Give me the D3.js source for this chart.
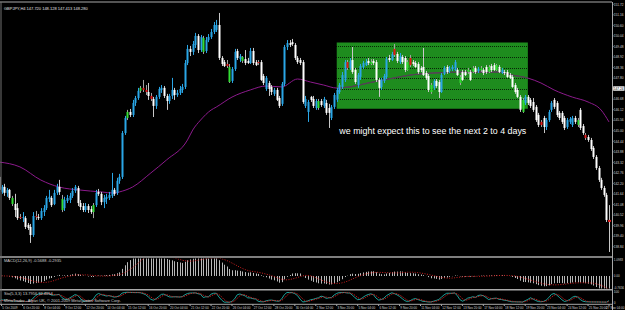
<!DOCTYPE html>
<html><head><meta charset="utf-8">
<script src="https://cdn.jsdelivr.net/npm/d3@7"></script>
<style>html,body{margin:0;padding:0;background:#000;overflow:hidden}svg{display:block}</style>
</head><body>
<svg id="c" width="625" height="310"></svg>
<script>
// ---------- DATA (GBPJPY H4) ----------
const opens=[142.55,141.75,142.02,141.70,141.86,141.43,141.11,140.89,140.42,140.36,
140.36,140.00,139.89,139.46,140.47,140.42,140.36,140.68,140.89,141.38,
141.43,141.11,141.70,142.02,141.38,140.89,141.27,141.32,141.54,141.81,
141.96,141.16,141.00,140.79,141.00,140.84,140.68,141.05,141.75,141.65,
141.21,141.38,141.43,141.54,141.86,141.70,142.34,142.55,144.88,145.68,
146.00,145.84,146.48,146.74,147.12,147.28,147.17,147.06,146.85,146.69,
146.32,146.80,147.17,147.28,146.85,146.58,146.85,147.17,146.90,147.01,
147.17,147.33,148.60,149.35,149.19,149.56,150.04,149.29,149.93,149.24,
149.82,149.98,150.25,150.36,150.62,148.87,148.65,148.55,148.39,147.65,
148.28,149.24,148.81,148.92,148.81,148.71,148.60,149.24,148.65,148.65,
148.65,147.91,147.22,147.54,147.33,146.96,147.17,146.74,146.43,147.49,
149.45,149.66,149.71,149.56,148.87,148.76,148.65,146.32,146.00,146.80,
146.69,146.21,146.58,146.58,146.32,146.48,146.21,145.68,146.27,146.64,
147.06,147.33,147.70,148.65,148.34,148.76,148.23,147.43,147.86,148.39,
148.49,148.71,148.65,148.71,148.65,147.70,147.33,147.65,147.86,148.87,
148.76,149.35,149.08,148.65,148.92,148.87,148.65,148.87,148.65,148.60,
148.55,148.34,148.39,148.07,147.91,147.43,147.28,147.65,147.59,147.06,
148.02,148.39,148.18,148.28,148.23,148.23,147.86,148.12,148.12,148.23,
148.12,148.34,148.34,148.18,148.34,148.23,148.39,148.39,148.44,148.49,
148.49,148.39,148.07,148.12,148.12,147.96,147.86,147.43,147.17,146.80,
146.64,146.48,146.80,146.64,146.53,146.27,145.84,145.47,145.68,145.20,
145.57,146.11,146.64,146.48,145.95,145.95,145.68,145.20,145.47,145.31,
145.68,145.57,146.11,145.25,144.78,144.67,144.51,144.09,143.61,143.02,
142.39,141.96,141.59,140.26];
const highs=[142.65,142.12,142.18,141.96,141.91,141.54,141.65,141.16,140.58,140.68,
140.47,140.10,140.05,140.68,140.74,140.58,140.89,141.05,141.54,141.86,
141.54,141.86,142.18,142.39,141.59,141.49,141.59,141.70,141.96,142.12,
142.07,141.32,141.16,141.16,141.11,141.00,141.16,141.86,141.91,141.75,
141.59,141.65,141.75,142.76,141.96,142.50,142.71,144.99,145.79,146.11,
146.16,146.64,146.85,147.28,147.38,147.70,147.43,147.54,147.01,146.80,
146.90,147.33,147.43,147.38,146.96,146.96,147.81,147.28,147.17,147.38,
147.49,148.76,149.56,149.51,149.77,150.20,150.14,150.09,150.04,149.98,
150.14,150.41,150.78,150.89,151.26,148.97,148.76,148.76,148.55,148.39,
149.35,149.35,149.08,148.97,149.29,148.87,149.40,149.40,148.76,148.76,
148.76,148.02,147.91,147.65,147.43,147.28,147.28,146.85,147.59,149.56,
149.82,149.82,149.88,149.66,148.97,148.87,148.76,146.85,146.64,146.85,
146.85,146.69,146.69,146.69,146.80,146.64,146.43,146.37,147.01,147.28,
147.54,148.12,148.76,148.76,148.87,149.45,148.34,148.07,148.55,148.71,
148.81,148.87,148.81,148.81,148.76,147.81,147.81,148.02,148.92,149.03,
149.19,149.61,149.19,149.13,149.03,148.97,148.76,149.03,148.76,148.71,
148.65,148.44,149.40,148.18,148.02,147.54,147.75,147.75,147.70,148.07,
148.44,148.49,148.44,148.49,148.76,148.34,147.96,148.23,148.23,148.34,
148.23,148.44,148.44,148.39,148.44,148.34,148.49,148.49,148.55,148.60,
148.55,148.49,148.34,148.23,148.23,148.07,147.96,147.54,147.28,146.90,
146.74,146.90,146.90,146.74,146.74,146.37,145.95,145.57,145.79,145.68,
146.11,146.58,146.74,146.58,146.05,146.05,145.79,145.68,145.73,145.79,
145.79,145.68,146.21,145.36,144.88,144.78,144.62,144.19,143.71,143.13,
142.50,142.07,141.70,141.05];
const lows=[141.75,141.65,141.54,141.49,141.32,141.00,140.42,140.26,140.31,140.15,
139.78,139.73,139.04,139.36,140.26,140.26,140.26,140.47,140.79,141.21,
140.95,141.05,141.59,141.59,140.68,140.74,141.16,141.16,141.43,141.70,
141.00,140.79,140.68,140.68,140.63,140.58,140.36,140.95,141.54,141.05,
140.89,141.11,141.32,141.43,141.54,141.59,142.18,142.44,144.78,145.57,
145.73,145.73,146.32,146.64,147.01,147.06,146.90,146.64,146.58,145.73,
146.16,146.69,147.01,146.74,146.11,146.43,146.69,146.64,146.80,146.90,
147.01,147.22,148.49,148.97,149.03,149.40,149.13,149.19,149.08,149.13,
149.71,149.88,150.14,150.25,148.76,148.44,148.39,148.34,147.54,147.54,
148.18,148.76,148.65,148.60,148.49,148.55,148.55,148.49,148.44,148.49,
147.65,147.43,147.12,146.85,146.90,146.85,146.58,146.21,146.32,147.38,
149.29,149.45,149.51,148.76,148.55,148.49,146.43,146.21,145.47,146.53,
146.21,146.11,146.11,146.27,146.21,145.84,145.15,145.57,146.16,146.53,
146.96,147.22,147.59,148.23,148.23,148.02,147.49,147.28,147.70,148.28,
148.44,148.49,148.49,148.49,147.59,146.80,147.17,147.54,147.75,148.65,
148.71,148.92,148.60,148.55,148.55,148.12,148.18,148.39,148.44,148.34,
148.02,148.12,147.91,147.70,147.06,146.96,147.17,147.28,146.74,147.01,
147.96,148.02,148.07,148.18,148.18,147.91,147.43,147.65,147.91,148.02,
147.65,148.07,148.02,148.07,148.12,147.96,148.02,148.07,148.12,148.18,
148.18,148.07,148.02,147.96,147.81,147.75,147.28,146.96,146.74,146.00,
145.95,146.37,146.37,146.21,146.00,145.47,145.20,145.20,144.88,145.04,
145.47,146.00,146.16,145.73,145.57,145.36,145.04,145.10,145.36,145.20,
145.36,145.20,145.04,144.78,144.51,144.41,143.93,143.50,142.92,142.28,
141.86,141.49,140.15,138.56];
const closes=[141.86,142.02,141.70,141.86,141.43,141.11,140.79,140.36,140.36,140.42,
139.89,139.84,139.46,140.47,140.42,140.36,140.74,140.89,141.43,141.49,
141.05,141.70,142.02,141.75,140.79,141.32,141.43,141.54,141.81,142.02,
141.16,140.95,140.79,141.00,140.79,140.68,141.05,141.70,141.65,141.21,
141.43,141.49,141.59,141.86,141.65,142.34,142.55,144.88,145.68,146.00,
145.84,146.48,146.74,147.12,147.28,147.17,147.06,146.85,146.69,146.32,
146.80,147.22,147.28,146.85,146.58,146.85,147.17,146.90,147.01,147.22,
147.33,148.60,149.35,149.19,149.61,150.04,149.29,149.98,149.19,149.82,
149.98,150.25,150.62,150.62,148.87,148.55,148.44,148.44,147.59,148.28,
149.19,148.87,148.97,148.71,148.60,148.60,149.24,148.60,148.49,148.60,
147.70,147.54,147.81,147.22,147.06,147.17,146.64,146.32,147.49,149.45,
149.66,149.56,149.61,148.87,148.65,148.60,146.53,146.69,146.53,146.64,
146.32,146.58,146.21,146.37,146.69,145.95,145.95,146.27,146.90,147.17,
147.43,147.96,148.65,148.34,148.71,148.12,147.59,147.96,148.44,148.60,
148.65,148.60,148.55,148.60,147.70,147.28,147.70,147.91,148.81,148.76,
149.08,149.03,148.71,148.97,148.65,148.23,148.23,148.49,148.55,148.39,
148.12,148.23,147.96,147.81,147.17,147.06,147.65,147.38,147.06,147.96,
148.34,148.12,148.34,148.39,148.65,147.96,147.54,147.70,147.96,148.12,
147.70,148.12,148.12,148.28,148.23,148.07,148.12,148.12,148.23,148.23,
148.23,148.12,148.23,148.07,147.86,147.81,147.33,147.06,146.80,146.11,
146.00,146.80,146.48,146.32,146.11,145.57,145.31,145.31,145.20,145.57,
146.00,146.48,146.27,145.84,145.68,145.47,145.15,145.57,145.63,145.68,
145.47,145.31,145.15,144.88,144.62,144.51,144.03,143.61,143.02,142.39,
141.96,141.59,140.26,140.21];
// candle colour class per bar: w=bearish white, b=bullish blue, g=green signal, r=red signal
const barColors=("wbwbwgwwrb"+"wwwbrwbbbb"+"wbbwgbbbbb"+"wwwbwwgbww"+"bbbbwbbbbg"+
"wbbbgrrwrw"+"bbbwwbbwbb"+"bbbwbbwbgb"+"bbbbwwwrgb"+"bwbgwwbwwr"+
"wwbwwbwwbb"+"bwwwwwwbbw"+"wbgwbwwbbb"+"bbbrbwwbbb"+"bwgwwwbbbw"+
"brwbwwgrww"+"wwwwwgbwwb"+"bwbbbwgwwg"+"wgwbgwwgww"+"gwbwwwwwww"+
"gbwwwwwrwb"+"bbwwwwwbbb"+"wgwwrwwwww"+"wwww").split("");
// moving average readings (bar index, price)
const maBars=[0,8,16,23,31,39,44,46,51,58,64,72,74,77,81,83,89,96,102,108,114,119,124,129,134,141,147,153,157,166,179,191,196,202,207,212,219,225,230,233];
const maValues=[143.34,143.08,142.38,142.01,141.85,141.75,141.69,141.75,142.01,142.76,143.45,144.51,145.04,145.57,146.10,146.26,146.79,147.17,147.38,147.33,147.75,147.59,147.43,147.27,147.33,147.54,147.70,147.86,147.96,148.07,148.12,148.12,147.96,147.80,147.54,147.17,146.79,146.53,146.10,145.47];
// price axis labels
const priceTicks=[151.72,151.16,150.60,150.04,149.48,148.92,148.36,147.80,147.24,146.68,146.12,145.56,145.00,144.44,143.88,143.32,142.76,142.20,141.64,141.08,140.52,139.96,139.40,138.84];
const highlightTick=147.24;
// time axis labels
const timeLabelBars=[0,9,17,25,33,41,49,57,65,73,81,89,97,105,113,121,129,137,145,153,161,169,177,185,193,201,209,217,225,233];
const timeLabels=["5 Oct 2009","6 Oct 20:00","8 Oct 04:00","9 Oct 12:00","12 Oct 20:00","14 Oct 04:00","15 Oct 12:00","16 Oct 20:00","20 Oct 04:00","21 Oct 12:00","22 Oct 20:00","26 Oct 04:00","27 Oct 12:00","28 Oct 20:00","30 Oct 04:00","2 Nov 12:00","3 Nov 20:00","5 Nov 04:00","6 Nov 12:00","9 Nov 20:00","11 Nov 04:00","12 Nov 12:00","13 Nov 20:00","17 Nov 04:00","18 Nov 12:00","19 Nov 20:00","23 Nov 04:00","24 Nov 12:00","25 Nov 20:00","27 Nov 04:00"];
// rectangle object (bars / prices) and note
const boxBars=[129,202];
const boxPrices=[149.69,146.17];
const noteBar=130, notePrice=144.85;
const noteText="we might expect this to see the next 2 to 4 days";
// indicator panel labels
const macdTicks=[1.0983,0,-0.7656];
const stochTicks=[100,0];
const titleText="GBPJPY,H4  147.720 148.128 147.413 148.280";
const macdTitle="MACD(12,26,9) -0.5688 -0.2935";
const stochTitle="Sto(5,3,3) 13.7956 32.4054";
const copyright="MetaTrader - Alpari UK, \u00a9 2001-2009 MetaQuotes Software Corp.";

// ---------- DRAW ----------
const W=625,H=310, AX=612;
const svg=d3.select("#c");
svg.append("rect").attr("width",W).attr("height",H).attr("fill","#000");
const n=closes.length;
const x=d3.scaleLinear().domain([0,n-1]).range([-1,609]);
const y=d3.scaleLinear().domain([priceTicks[priceTicks.length-1],priceTicks[0]]).range([246.7,4.3]);
const font="'Liberation Sans',Arial,sans-serif";
const axCol="#d4d4d4";

const defs=svg.append("defs");
defs.append("clipPath").attr("id","main").append("rect").attr("x",0).attr("y",3).attr("width",AX).attr("height",253);
defs.append("clipPath").attr("id","box").append("rect")
  .attr("x",x(boxBars[0])).attr("y",y(boxPrices[0]))
  .attr("width",x(boxBars[1])-x(boxBars[0])).attr("height",y(boxPrices[1])-y(boxPrices[0]));
defs.append("clipPath").attr("id","macd").append("rect").attr("x",0).attr("y",258.5).attr("width",AX).attr("height",30);
defs.append("clipPath").attr("id","sto").append("rect").attr("x",0).attr("y",290.5).attr("width",AX).attr("height",13);

const main=svg.append("g").attr("clip-path","url(#main)");
// rectangle object
main.append("rect").attr("x",x(boxBars[0])).attr("y",y(boxPrices[0]))
  .attr("width",x(boxBars[1])-x(boxBars[0])).attr("height",y(boxPrices[1])-y(boxPrices[0]))
  .attr("fill","#1e8c1e");
// grid (black dotted; only visible over the rectangle)
main.selectAll("line.grid").data(priceTicks).join("line").attr("class","grid")
  .attr("x1",0).attr("x2",AX).attr("y1",d=>Math.round(y(d))+0.5).attr("y2",d=>Math.round(y(d))+0.5)
  .attr("stroke","#000").attr("stroke-opacity",0.75).attr("stroke-width",1).attr("stroke-dasharray","1,1");
// moving average
const maLine=d3.line().x((d,i)=>x(maBars[i])).y(d=>y(d)).curve(d3.curveMonotoneX);
main.append("path").attr("d",maLine(maValues)).attr("fill","none").attr("stroke","#8c1a8c").attr("stroke-width",1);
main.append("g").attr("clip-path","url(#box)").append("path").attr("d",maLine(maValues))
  .attr("fill","none").attr("stroke","#4a4a4a").attr("stroke-width",1.2);
// candles
const bodyCol={w:"#ffffff",b:"#2aa6e6",g:"#33dd33",r:"#e01818"};
const wickCol={w:"#c8c8c8",b:"#2aa6e6",g:"#a0a0a0",r:"#a0a0a0"};
const idx=d3.range(n);
main.selectAll("line.wick").data(idx).join("line").attr("class","wick")
  .attr("x1",i=>Math.round(x(i))+0.5).attr("x2",i=>Math.round(x(i))+0.5)
  .attr("y1",i=>y(highs[i])).attr("y2",i=>y(lows[i]))
  .attr("stroke",i=>wickCol[barColors[i]]).attr("stroke-width",1);
main.selectAll("rect.body").data(idx).join("rect").attr("class","body")
  .attr("x",i=>Math.round(x(i))-0.5).attr("width",2)
  .attr("y",i=>y(Math.max(opens[i],closes[i])))
  .attr("height",i=>Math.max(1,Math.abs(y(opens[i])-y(closes[i]))))
  .attr("fill",i=>bodyCol[barColors[i]]);
// last close marker
main.append("rect").attr("x",x(n-1)-1).attr("y",y(closes[n-1])-1).attr("width",3).attr("height",2).attr("fill","#e01818");
// note
svg.append("text").attr("x",x(noteBar)).attr("y",y(notePrice)).text(noteText)
  .attr("fill","#fff").attr("font-family","'Liberation Sans',Arial,sans-serif").attr("font-size",8.9);
// small text helper (tiny MT4-style labels)
function small(g,xx,yy,t,col,fs,len){
  const el=g.append("text").attr("x",xx).attr("y",yy).text(t).attr("fill",col||axCol)
    .attr("font-family",font).attr("font-size",fs);
  if(len){el.attr("textLength",len).attr("lengthAdjust","spacingAndGlyphs");}
  return el;
}
small(svg,4,10,titleText,"#e0e0e0",4,null);

// ---------- MACD ----------
function ema(arr,p){const a=2/(p+1);let e=arr[0];return arr.map((v,i)=>(e=i===0?v:e+a*(v-e)));}
const e12=ema(closes,12), e26=ema(closes,26);
const macd=closes.map((c,i)=>e12[i]-e26[i]);
const sig=macd.map((v,i)=>d3.mean(macd.slice(Math.max(0,i-8),i+1)));
const yM=d3.scaleLinear().domain([macdTicks[2],macdTicks[0]]).range([287.5,259.5]);
const mg=svg.append("g").attr("clip-path","url(#macd)");
mg.selectAll("line.h").data(idx).join("line").attr("class","h")
  .attr("x1",i=>Math.round(x(i))+0.5).attr("x2",i=>Math.round(x(i))+0.5)
  .attr("y1",yM(0)).attr("y2",i=>yM(macd[i])).attr("stroke","#b8b8b8").attr("stroke-width",1);
mg.append("path").attr("d",d3.line().x((d,i)=>x(i)).y(d=>yM(d))(sig)).attr("fill","none")
  .attr("stroke","#d02020").attr("stroke-width",1).attr("stroke-dasharray","1,1.5");
small(svg,4,262,macdTitle,"#d0d0d0",4,null);

// ---------- Stochastic ----------
const K=5,S=3;
const ll=lows.map((v,i)=>d3.min(lows.slice(Math.max(0,i-K+1),i+1)));
const hh=highs.map((v,i)=>d3.max(highs.slice(Math.max(0,i-K+1),i+1)));
const stoMain=closes.map((c,i)=>{let a=0,b=0;for(let j=Math.max(0,i-S+1);j<=i;j++){a+=closes[j]-ll[j];b+=hh[j]-ll[j];}return b?100*a/b:50;});
const stoSig=stoMain.map((v,i)=>d3.mean(stoMain.slice(Math.max(0,i-2),i+1)));
const yS=d3.scaleLinear().domain([stochTicks[1],stochTicks[0]]).range([302.5,292]);
const sg=svg.append("g").attr("clip-path","url(#sto)");
sg.append("path").attr("d",d3.line().x((d,i)=>x(i)).y(d=>yS(d))(stoMain)).attr("fill","none").attr("stroke","#20b2aa").attr("stroke-width",0.9);
sg.append("path").attr("d",d3.line().x((d,i)=>x(i)).y(d=>yS(d))(stoSig)).attr("fill","none").attr("stroke","#d02020").attr("stroke-width",0.9).attr("stroke-dasharray","1.5,1");
small(svg,4,294.5,stochTitle,"#d0d0d0",4,null);
small(svg,4,302.3,copyright,"#d0d0d0",4,null);

// ---------- separators / frame ----------
const sepCol="#a8a8a8";
[[2,1],[257,1.6],[289.8,1.6],[304.3,1]].forEach(([yy,w])=>svg.append("line").attr("x1",0).attr("x2",AX).attr("y1",yy).attr("y2",yy).attr("stroke",sepCol).attr("stroke-width",w));
svg.append("line").attr("x1",1).attr("x2",1).attr("y1",2).attr("y2",304).attr("stroke","#707070");
svg.append("line").attr("x1",AX+0.5).attr("x2",AX+0.5).attr("y1",2).attr("y2",310).attr("stroke",sepCol);

// ---------- price axis ----------
const ax=svg.append("g");
priceTicks.forEach(p=>{
  const yy=y(p);
  ax.append("line").attr("x1",AX).attr("x2",AX+1.5).attr("y1",yy).attr("y2",yy).attr("stroke",sepCol);
  if(p===highlightTick){ax.append("rect").attr("x",AX+1.2).attr("y",yy-2.3).attr("width",11.3).attr("height",4.4).attr("fill","#fff");}
  small(ax,AX+1.8,yy+1.2,p.toFixed(2),p===highlightTick?"#000":axCol,3.2,null);
});
[[macdTicks[0],macdTicks[0].toFixed(4)],[macdTicks[1],"0.00"],[macdTicks[2],macdTicks[2].toFixed(4)]].forEach(([v,t])=>{
  small(ax,AX+1.8,yM(v)+1.2,t,axCol,3.0,null);
});
stochTicks.forEach(v=>small(ax,AX+1.8,yS(v)+1.2,String(v),axCol,3.2,null));

// ---------- time axis ----------
timeLabelBars.forEach((b,k)=>{
  const t=timeLabels[k];
  const xt=Math.max(1.5,x(b));
  svg.append("line").attr("x1",xt).attr("x2",xt).attr("y1",304.3).attr("y2",306).attr("stroke",sepCol);
  const el=small(svg,xt+0.8,309.2,t,axCol,3.1,null);
  const w=el.node().getComputedTextLength();
  if(xt+0.8+w>W-0.5) el.attr("x",W-0.5-w);
});
</script>
</body></html>
